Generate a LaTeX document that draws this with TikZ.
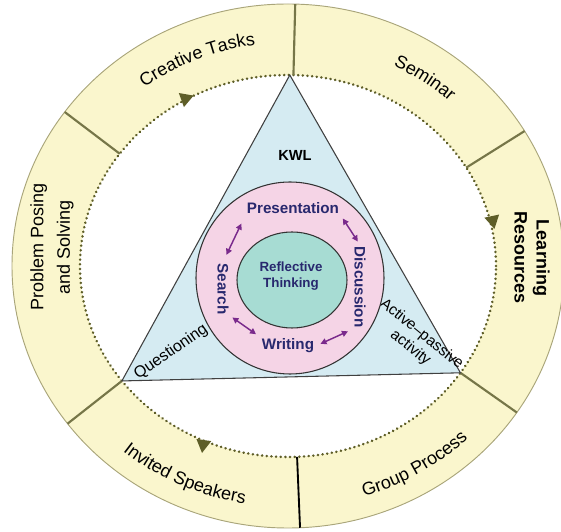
\documentclass[tikz,border=0pt]{standalone}
\usepackage{fontspec}
\setmainfont{Liberation Sans}
\usetikzlibrary{arrows.meta,calc,decorations.text}

\definecolor{ringfill}{HTML}{FAF6CD}
\definecolor{ringline}{HTML}{A9A57A}
\definecolor{olivedk}{HTML}{5E5E28}
\definecolor{trifill}{HTML}{D5EBF2}
\definecolor{pinkfill}{HTML}{F5D4E6}
\definecolor{tealfill}{HTML}{A7DCD3}
\definecolor{navy}{HTML}{28286E}
\definecolor{plum}{HTML}{7A2A8C}

\tikzset{
 hub/.style={font=\bfseries\fontsize{11.4}{13}\selectfont,text=navy,inner sep=1pt},
 duo/.style={plum,line width=1.1pt,{Triangle[length=4.5pt,width=4.5pt]}-{Triangle[length=4.5pt,width=4.5pt]},shorten <=2pt,shorten >=2pt},
 divider/.style={olivedk!85,line width=1.6pt},
 ringtext/.style={decorate,decoration={text along path,text align=center,text={|\fontsize{13.5}{16}\selectfont|#1}}},
 side/.style={align=center,inner sep=1pt},
}

\begin{document}
\begin{tikzpicture}[x=0.75pt,y=0.75pt]
 \useasboundingbox (0,0) rectangle (561,532);
 \coordinate (o) at (288,266);
 % yellow ring with dotted inner rim
 \fill[ringfill,even odd rule] (o) ellipse[x radius=276,y radius=262] (o) ellipse[x radius=208,y radius=191];
 \draw[ringline,line width=.7pt] (o) ellipse[x radius=276,y radius=262];
 \draw[olivedk,line width=2pt,dash pattern=on .1pt off 3.4pt,line cap=round] (o) ellipse[x radius=208,y radius=191];
 \foreach \a in {88.5,31,-34,-143,144}
  \draw[divider] ($(o)+(\a:208 and 191)$) -- ($(o)+(\a:276 and 262)$);
 \draw[black,line width=1.4pt] ($(o)+(-87.5:208 and 191)$) -- ($(o)+(-87.5:276 and 262)$);
 \foreach \p/\r in {{187,434}/20,{493,310}/-78,{203,86}/-98}
  \fill[olivedk,shift={(\p)},rotate=\r] (7,0) -- (-6,7.5) -- (-6,-7.5) -- cycle;

 % labels on the ring
 \path[ringtext={Creative Tasks}] ($(o)+(140:240 and 223)$) arc[start angle=140,end angle=85,x radius=240,y radius=223];
 \path[ringtext={Seminar}] ($(o)+(75:239 and 223)$) arc[start angle=75,end angle=36,x radius=239,y radius=223];
 \path[ringtext={Invited Speakers}] ($(o)+(-145:258 and 241)$) arc[start angle=-145,end angle=-85,x radius=258,y radius=241];
 \path[ringtext={Group Process}] ($(o)+(-88:258 and 241)$) arc[start angle=-88,end angle=-30,x radius=258,y radius=241];
 \node[side,rotate=90,font=\fontsize{13.5}{20}\selectfont] (pps) at (52,285) {Problem Posing\\and Solving};
 \node[side,rotate=-90,font=\bfseries\fontsize{13.5}{16.5}\selectfont] (lr) at (532,274) {Learning\\Resources};

 % triangle
 \coordinate (ta) at ($(o)+(89.5:208 and 191)$);
 \coordinate (tb) at ($(o)+(-34:208 and 191)$);
 \coordinate (tc) at ($(o)+(-143:208 and 191)$);
 \draw[fill=trifill,draw=black!75,line width=.8pt] (ta) -- (tb) -- (tc) -- cycle;
 \node[font=\bfseries\fontsize{11}{13}\selectfont] (kwl) at (295,377) {KWL};
 \node[font=\fontsize{12}{14}\selectfont,rotate=35] (qst) at (171,180) {Questioning};
 \node[side,font=\fontsize{11.5}{13.3}\selectfont,rotate=-39] (act) at (416,191) {Active–passive\\activity};

 % circles in the middle
 \draw[fill=pinkfill,draw=black!80,line width=.8pt] (290,254) ellipse[x radius=94,y radius=96];
 \draw[fill=tealfill,draw=black!80,line width=.8pt] (292,252) ellipse[x radius=55,y radius=48];
 \node[hub,align=center,font=\bfseries\fontsize{10}{11.5}\selectfont] (rt) at (291,256) {Reflective\\Thinking};
 \node[hub] (pres) at (293,324) {Presentation};
 \node[hub,rotate=-90] (disc) at (360,245) {Discussion};
 \node[hub] (wri) at (288,186) {Writing};
 \node[hub,rotate=-90] (srch) at (223,243) {Search};
 \draw[duo,shorten <=3pt,shorten >=3pt] (pres.south east) -- (disc.west);
 \draw[duo,shorten <=6pt,shorten >=7pt] (srch.west) -- (pres.south west);
 \draw[duo,shorten >=4pt] (srch.north east) -- (wri.north west);
 \draw[duo,shorten <=4pt,shorten >=4pt] (wri.east) -- (disc.south east);
\end{tikzpicture}
\end{document}
